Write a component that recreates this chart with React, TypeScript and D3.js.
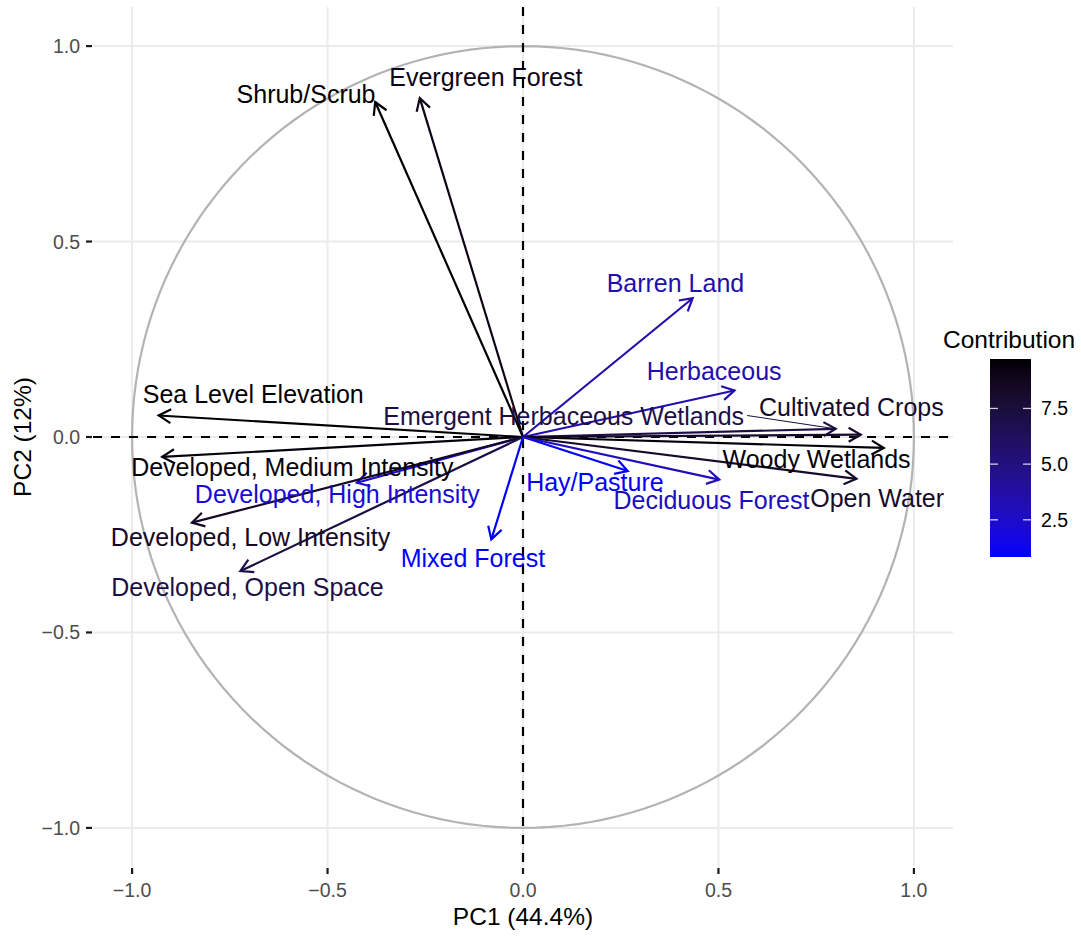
import React, { useEffect, useRef } from "react";
import * as d3 from "d3";

// Variable loadings on the first two principal components
const variables = [
  "Shrub/Scrub",
  "Evergreen Forest",
  "Sea Level Elevation",
  "Developed, Medium Intensity",
  "Developed, High Intensity",
  "Developed, Low Intensity",
  "Developed, Open Space",
  "Mixed Forest",
  "Barren Land",
  "Herbaceous",
  "Emergent Herbaceous Wetlands",
  "Cultivated Crops",
  "Woody Wetlands",
  "Open Water",
  "Hay/Pasture",
  "Deciduous Forest",
];
const pc1 = [-0.378, -0.264, -0.932, -0.923, -0.425, -0.847, -0.723, -0.081, 0.434, 0.541, 0.8, 0.864, 0.923, 0.853, 0.268, 0.502];
const pc2 = [0.857, 0.867, 0.055, -0.051, -0.117, -0.219, -0.343, -0.262, 0.355, 0.119, 0.021, 0.006, -0.028, -0.107, -0.087, -0.109];
const contribution = [9.72, 9.09, 9.66, 9.47, 2.16, 8.47, 7.1, 0.83, 3.49, 3.39, 7.1, 8.27, 9.46, 8.18, 0.88, 2.93];

// Repelled label placement (in PC units)
const labelPc1 = [-0.555, -0.095, -0.69, -0.59, -0.475, -0.697, -0.705, -0.128, 0.39, 0.489, 0.104, 0.84, 0.751, 0.906, 0.184, 0.482];
const labelPc2 = [0.878, 0.92, 0.111, -0.077, -0.145, -0.256, -0.384, -0.31, 0.395, 0.17, 0.055, 0.078, -0.057, -0.157, -0.115, -0.16];
const labelsWithSegment = ["Emergent Herbaceous Wetlands"];

const axisTicks = [-1, -0.5, 0, 0.5, 1];
const legendTicks = [2.5, 5, 7.5];

const xTitle = "PC1 (44.4%)";
const yTitle = "PC2 (12%)";
const legendTitle = "Contribution";

const W = 1081;
const H = 937;
const FONT = "'Liberation Sans', Arial, Helvetica, sans-serif";

export default function App() {
  const ref = useRef<SVGSVGElement | null>(null);

  useEffect(() => {
    const svg = d3.select(ref.current);
    svg.selectAll("*").remove();

    const panel = { left: 93, right: 953, top: 7, bottom: 867 };
    const x = d3.scaleLinear().domain([-1.1, 1.1]).range([panel.left, panel.right]);
    const y = d3.scaleLinear().domain([-1.1, 1.1]).range([panel.bottom, panel.top]);

    const cExtent = d3.extent(contribution) as [number, number];
    const color = d3
      .scaleLinear<string>()
      .domain(cExtent)
      .range(["blue", "black"])
      .interpolate(d3.interpolateLab);

    // grid
    const grid = svg.append("g");
    axisTicks.forEach((t) => {
      grid.append("line")
        .attr("x1", x(t)).attr("x2", x(t))
        .attr("y1", panel.top).attr("y2", panel.bottom)
        .attr("stroke", "#ebebeb").attr("stroke-width", 2);
      grid.append("line")
        .attr("y1", y(t)).attr("y2", y(t))
        .attr("x1", panel.left).attr("x2", panel.right)
        .attr("stroke", "#ebebeb").attr("stroke-width", 2);
    });

    // axes ticks and labels
    const axes = svg.append("g").attr("font-family", FONT);
    axisTicks.forEach((t) => {
      axes.append("line")
        .attr("x1", x(t)).attr("x2", x(t))
        .attr("y1", panel.bottom + 1).attr("y2", panel.bottom + 7)
        .attr("stroke", "#1a1a1a").attr("stroke-width", 2.2);
      axes.append("text")
        .attr("x", x(t)).attr("y", 896.5)
        .attr("text-anchor", "middle")
        .attr("font-size", 19.5).attr("fill", "#4d4d4d")
        .text(d3.format(".1f")(t).replace("-", "\u2212"));
      axes.append("line")
        .attr("x1", panel.left - 7).attr("x2", panel.left - 1)
        .attr("y1", y(t)).attr("y2", y(t))
        .attr("stroke", "#1a1a1a").attr("stroke-width", 2.2);
      axes.append("text")
        .attr("x", 80).attr("y", y(t))
        .attr("dy", "0.36em")
        .attr("text-anchor", "end")
        .attr("font-size", 19.5).attr("fill", "#4d4d4d")
        .text(d3.format(".1f")(t).replace("-", "\u2212"));
    });
    axes.append("text")
      .attr("x", (panel.left + panel.right) / 2).attr("y", 925)
      .attr("text-anchor", "middle").attr("font-size", 24.5).attr("fill", "#000")
      .text(xTitle);
    axes.append("text")
      .attr("transform", `translate(31,${(panel.top + panel.bottom) / 2}) rotate(-90)`)
      .attr("text-anchor", "middle").attr("font-size", 24.5).attr("fill", "#000")
      .text(yTitle);

    // correlation circle
    const circle = d3.range(0, 361, 2).map((a) => [Math.cos((a * Math.PI) / 180), Math.sin((a * Math.PI) / 180)]);
    svg.append("path")
      .attr("d", d3.line<number[]>().x((d) => x(d[0])).y((d) => y(d[1]))(circle))
      .attr("fill", "none").attr("stroke", "#b3b3b3").attr("stroke-width", 2.2);

    // reference lines
    svg.append("line")
      .attr("x1", panel.left).attr("x2", panel.right)
      .attr("y1", y(0)).attr("y2", y(0))
      .attr("stroke", "#000").attr("stroke-width", 2.2).attr("stroke-dasharray", "9,9");
    svg.append("line")
      .attr("x1", x(0)).attr("x2", x(0))
      .attr("y1", panel.top).attr("y2", panel.bottom)
      .attr("stroke", "#000").attr("stroke-width", 2.2).attr("stroke-dasharray", "9,9");

    // arrows
    const arrows = svg.append("g").attr("fill", "none").attr("stroke-width", 2.2)
      .attr("stroke-linecap", "butt").attr("stroke-linejoin", "miter");
    const headLen = 14;
    const headAngle = Math.PI / 6;
    variables.forEach((v, i) => {
      const x0 = x(0), y0 = y(0);
      const x1 = x(pc1[i]), y1 = y(pc2[i]);
      const ang = Math.atan2(y1 - y0, x1 - x0);
      const col = color(contribution[i]);
      arrows.append("line")
        .attr("x1", x0).attr("y1", y0).attr("x2", x1).attr("y2", y1)
        .attr("stroke", col);
      const a1 = ang + Math.PI - headAngle;
      const a2 = ang + Math.PI + headAngle;
      arrows.append("path")
        .attr("d", `M${x1 + headLen * Math.cos(a1)},${y1 + headLen * Math.sin(a1)}L${x1},${y1}L${x1 + headLen * Math.cos(a2)},${y1 + headLen * Math.sin(a2)}`)
        .attr("stroke", col);
    });

    // labels
    const labels = svg.append("g").attr("font-family", FONT).attr("font-size", 25);
    variables.forEach((v, i) => {
      const col = color(contribution[i]);
      const lx = x(labelPc1[i]);
      const ly = y(labelPc2[i]);
      const t = labels.append("text")
        .attr("x", lx).attr("y", ly).attr("dy", "0.36em")
        .attr("text-anchor", "middle").attr("fill", col)
        .text(v);
      if (labelsWithSegment.includes(v)) {
        const w = (t.node() as SVGTextElement).getComputedTextLength();
        const sx = lx + w / 2 + 3;
        const sy = ly;
        const ex = x(pc1[i]);
        const ey = y(pc2[i]);
        const len = Math.hypot(ex - sx, ey - sy);
        const k = (len - 4) / len;
        labels.append("line")
          .attr("x1", sx).attr("y1", sy)
          .attr("x2", sx + (ex - sx) * k).attr("y2", sy + (ey - sy) * k)
          .attr("stroke", col).attr("stroke-width", 1.1);
      }
    });

    // legend colour bar
    const bar = { x: 990, w: 41, top: 359, bottom: 557 };
    const ly = d3.scaleLinear().domain(cExtent).range([bar.bottom, bar.top]);
    const defs = svg.append("defs");
    const grad = defs.append("linearGradient").attr("id", "contribGrad")
      .attr("x1", 0).attr("y1", 1).attr("x2", 0).attr("y2", 0);
    d3.range(0, 21).forEach((s) => {
      const f = s / 20;
      grad.append("stop").attr("offset", f)
        .attr("stop-color", color(cExtent[0] + f * (cExtent[1] - cExtent[0])));
    });
    const legend = svg.append("g").attr("font-family", FONT);
    legend.append("text")
      .attr("x", 943).attr("y", 348)
      .attr("font-size", 24.5).attr("fill", "#000")
      .text(legendTitle);
    legend.append("rect")
      .attr("x", bar.x).attr("y", bar.top).attr("width", bar.w).attr("height", bar.bottom - bar.top)
      .attr("fill", "url(#contribGrad)");
    legendTicks.forEach((t) => {
      legend.append("line")
        .attr("x1", bar.x).attr("x2", bar.x + 8)
        .attr("y1", ly(t)).attr("y2", ly(t))
        .attr("stroke", "#fff").attr("stroke-opacity", 0.8).attr("stroke-width", 1.3);
      legend.append("line")
        .attr("x1", bar.x + bar.w - 8).attr("x2", bar.x + bar.w)
        .attr("y1", ly(t)).attr("y2", ly(t))
        .attr("stroke", "#fff").attr("stroke-opacity", 0.8).attr("stroke-width", 1.3);
      legend.append("text")
        .attr("x", 1041).attr("y", ly(t)).attr("dy", "0.36em")
        .attr("font-size", 19.5).attr("fill", "#000")
        .text(d3.format(".1f")(t));
    });
  }, []);

  return (
    <svg
      ref={ref}
      width={W}
      height={H}
      viewBox={`0 0 ${W} ${H}`}
      style={{ position: "absolute", left: 0, top: 0, background: "#fff", display: "block" }}
    />
  );
}
